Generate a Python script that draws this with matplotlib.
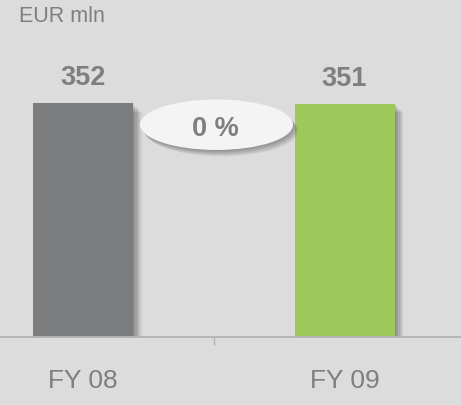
import matplotlib
matplotlib.use("Agg")
import matplotlib.pyplot as plt
from matplotlib.patches import Ellipse
import matplotlib.patheffects as pe

categories = ["FY 08", "FY 09"]
values = [352, 351]
value_labels = ["352", "351"]
change_label = "0 %"
unit_label = "EUR mln"
bar_colors = ["#7b7c7e", "#9dc85b"]

plt.rcParams['font.family'] = ['Liberation Sans', 'DejaVu Sans']
BG = "#dcdcdc"
TXT = "#7f7f7f"

fig = plt.figure(figsize=(4.61, 4.05), dpi=100, facecolor=BG)
ax = fig.add_axes([0, 68/405, 1, 337/405])
ax.set_facecolor(BG)

x = list(range(len(categories)))
shadow = [pe.SimplePatchShadow(offset=(k*0.9, -k*0.9), shadow_rgbFace="black", alpha=0.06)
          for k in range(1, 8)] + [pe.Normal()]
bars = ax.bar(x, values, width=0.3824, color=bar_colors, zorder=3)
for b in bars:
    b.set_path_effects(shadow)

ax.set_xlim(-0.3174, 1.4455)
ax.set_ylim(0, 507)

for xi, v, lab in zip(x, values, value_labels):
    ax.annotate(lab, xy=(xi, v), xytext=(0, 18), textcoords="offset points",
                ha="center", va="center", fontsize=19.5, fontweight="bold", color=TXT)

# change bubble
ell_sh = [pe.SimplePatchShadow(offset=(k*0.7, -k*0.9), shadow_rgbFace="black", alpha=0.07)
          for k in range(1, 6)] + [pe.Normal()]
ell = Ellipse((0.4696, 0.630), 0.332, 0.150, transform=ax.transAxes,
              facecolor="#f4f4f4", edgecolor="none", zorder=4)
ell.set_path_effects(ell_sh)
ax.add_patch(ell)
ax.text(0.4675, 0.616, change_label, transform=ax.transAxes, ha="center", va="center",
        fontsize=19.5, fontweight="bold", color=TXT, zorder=5)

fig.text(19/461, 1 - 16/405, unit_label, ha="left", va="center", fontsize=15.5, color=TXT)

for s in ["top", "right", "left"]:
    ax.spines[s].set_visible(False)
ax.spines["bottom"].set_color("#b3b3b3")
ax.spines["bottom"].set_linewidth(1.3)
ax.spines["bottom"].set_zorder(6)
ax.set_yticks([])
ax.set_xticks(x)
ax.set_xticklabels(categories, fontsize=19, color=TXT)
ax.tick_params(axis="x", which="major", length=0, pad=23)
ax.set_xticks([0.5], minor=True)
ax.tick_params(axis="x", which="minor", length=6, width=1, color="#b3b3b3")

fig.savefig("out.png", dpi=100, facecolor=BG)
